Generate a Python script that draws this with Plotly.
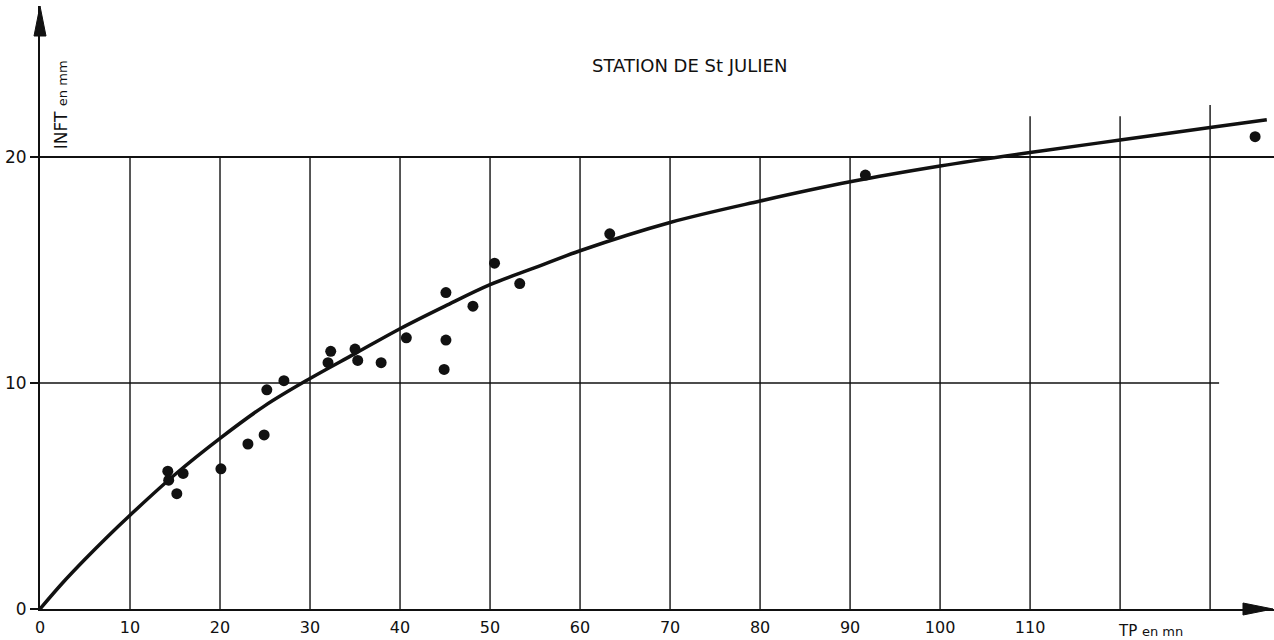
import plotly.graph_objects as go

# Observed points: TP (minutes) vs infiltration INFT (mm)
tp_obs = [14.2, 14.3, 15.2, 15.9, 20.1, 23.1, 24.9, 25.2, 27.1, 32.0, 32.3, 35.0,
          35.3, 37.9, 40.7, 44.9, 45.1, 45.1, 48.1, 50.5, 53.3, 63.3, 91.7, 135.0]
inft_obs = [6.1, 5.7, 5.1, 6.0, 6.2, 7.3, 7.7, 9.7, 10.1, 10.9, 11.4, 11.5,
            11.0, 10.9, 12.0, 10.6, 11.9, 14.0, 13.4, 15.3, 14.4, 16.6, 19.2, 20.9]

# Adjusted curve, read along its length
tp_curve = [0, 2.5, 5, 7.5, 10, 15, 20, 25, 30, 35, 40, 45, 50, 55, 60, 70, 80, 90, 100,
            110, 120, 130, 136.3]
inft_curve = [0, 1.15, 2.2, 3.2, 4.15, 5.95, 7.55, 9.0, 10.2, 11.3, 12.4, 13.4, 14.35, 15.1,
              15.85, 17.1, 18.05, 18.9, 19.6, 20.2, 20.75, 21.3, 21.65]

x_ticks = [0, 10, 20, 30, 40, 50, 60, 70, 80, 90, 100, 110]
y_ticks = [0, 10, 20]

# Vertical rulings and how high each one is drawn
v_grid = [10, 20, 30, 40, 50, 60, 70, 80, 90, 100, 110, 120, 130]
v_grid_top = [20, 20, 20, 20, 20, 20, 20, 20, 20, 20, 21.8, 21.8, 22.3]
# Horizontal rulings and their right-hand ends
h_grid = [10, 20]
h_grid_end = [131, 137.2]

X_MAX = 137.1
Y_MAX = 26.68
INK = "#111111"
FONT = "DejaVu Sans, Arial, sans-serif"

fig = go.Figure()

shapes = []
for xv, top in zip(v_grid, v_grid_top):
    shapes.append(dict(type="line", xref="x", yref="y", x0=xv, x1=xv, y0=0, y1=top,
                       line=dict(color=INK, width=1.4), layer="below"))
for yv, end in zip(h_grid, h_grid_end):
    shapes.append(dict(type="line", xref="x", yref="y", x0=0, x1=end, y0=yv, y1=yv,
                       line=dict(color=INK, width=2.0 if yv == 20 else 1.5), layer="below"))

# Arrowheads at the ends of both axes (pixel-sized, anchored in paper space)
shapes.append(dict(type="path", xref="paper", yref="paper",
                   xsizemode="pixel", ysizemode="pixel", xanchor=0, yanchor=1,
                   path="M 0 0 L -6 -30 L 6 -30 Z",
                   fillcolor=INK, line=dict(color=INK, width=1)))
shapes.append(dict(type="path", xref="paper", yref="paper",
                   xsizemode="pixel", ysizemode="pixel", xanchor=(1272 - 40) / 1233, yanchor=0,
                   path="M 0 0 L -30 6 L -30 -6 Z",
                   fillcolor=INK, line=dict(color=INK, width=1)))

fig.add_trace(go.Scatter(x=tp_curve, y=inft_curve, mode="lines", line_shape="spline",
                         line=dict(color=INK, width=3.5), hoverinfo="skip"))
fig.add_trace(go.Scatter(x=tp_obs, y=inft_obs, mode="markers",
                         marker=dict(color=INK, size=11, line=dict(width=0))))

annotations = [
    dict(text="STATION DE St JULIEN", xref="paper", yref="paper",
         x=(689 - 40) / 1233, y=(609 - 65) / 603, showarrow=False,
         font=dict(family=FONT, size=18, color=INK), xanchor="center", yanchor="middle"),
    dict(text="INFT <span style='font-size:13px'>en mm</span>", xref="x", yref="y",
         x=2.35, y=22.3, textangle=-90, showarrow=False,
         font=dict(family=FONT, size=17, color=INK), xanchor="center", yanchor="middle"),
    dict(text="TP <span style='font-size:13px'>en mn</span>", xref="x", yref="paper",
         x=119.6, y=0, yshift=-22, showarrow=False,
         font=dict(family=FONT, size=15, color=INK), xanchor="left", yanchor="middle"),
]

fig.update_layout(
    width=1274, height=640,
    margin=dict(l=40, r=0, t=6, b=31),
    paper_bgcolor="white", plot_bgcolor="white",
    showlegend=False,
    shapes=shapes,
    annotations=annotations,
    xaxis=dict(range=[0, X_MAX], tickvals=x_ticks, ticktext=[str(v) for v in x_ticks],
               showgrid=False, zeroline=False, showline=True, linecolor=INK, linewidth=2,
               ticks="", ticklabelstandoff=3,
               tickfont=dict(family=FONT, size=16, color=INK)),
    yaxis=dict(range=[0, Y_MAX], tickvals=y_ticks, ticktext=[str(v) for v in y_ticks],
               showgrid=False, zeroline=False, showline=True, linecolor=INK, linewidth=2,
               ticks="outside", ticklen=8, tickwidth=2, tickcolor=INK,
               tickfont=dict(family=FONT, size=17, color=INK)),
)

fig.write_html("out.html")
